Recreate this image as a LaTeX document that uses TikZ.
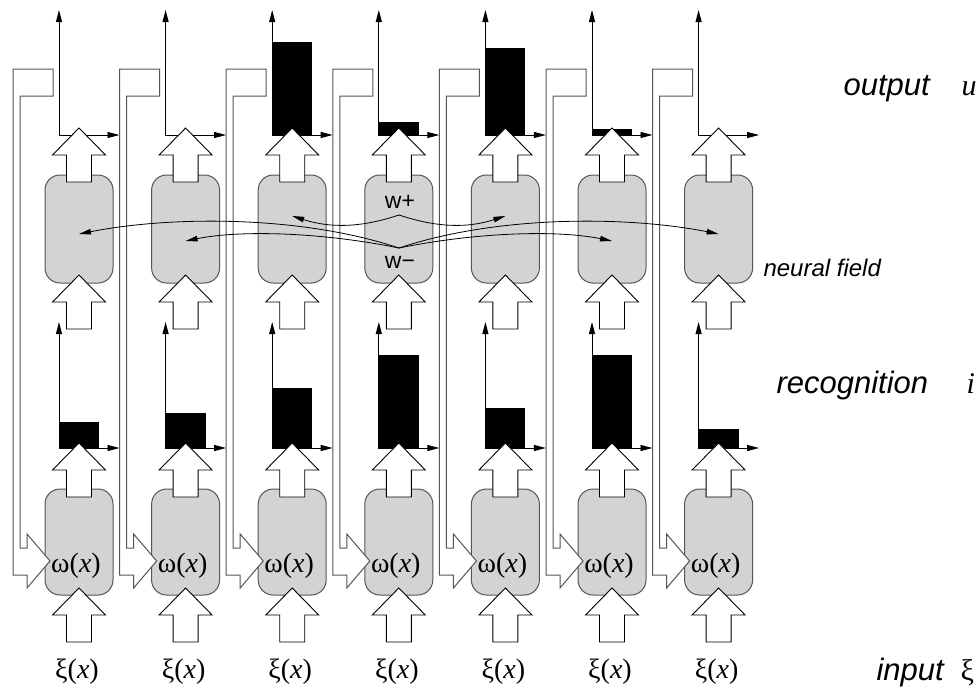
\documentclass[tikz,border=0pt]{standalone}
\usepackage{fontspec}
\setmainfont{Liberation Sans}
\newfontfamily\symfont{Liberation Serif}
\usetikzlibrary{arrows.meta, calc}
\definecolor{cFieldGray}{RGB}{211,211,211}
\definecolor{cEdgeGray}{RGB}{85,85,85}

\tikzset{
  % hollow arrow pointing up, tip at the origin
  blockup/.pic={
    \path[blockarrow] (0,0) -- (26.5,27) -- (12.5,27) -- (12.5,54)
      -- (-12.5,54) -- (-12.5,27) -- (-26.5,27) -- cycle;
  },
  % feedback pipe from the output down into the omega box
  feedback/.pic={
    \path[pipe] (-26,69) -- (-66,69) -- (-66,575) -- (-52,575) -- (-52,588)
      -- (-29,561) -- (-52,534) -- (-52,548) -- (-59,548) -- (-59,96)
      -- (-26,96) -- cycle;
  }
}

\begin{document}
\begin{tikzpicture}[x=1pt, y=-1pt, line join=miter,
    fieldbox/.style={draw=cEdgeGray, fill=cFieldGray, line width=1pt,
      rounded corners=15pt, minimum width=68pt, inner sep=0pt},
    blockarrow/.style={draw=black, fill=white, line width=0.9pt},
    pipe/.style={draw=cEdgeGray, fill=white, line width=1pt},
    axis/.style={line width=0.9pt,
      {Triangle[length=12pt,width=6pt]}-{Triangle[length=12pt,width=6pt]}},
    lateral/.style={line width=0.8pt, -{Triangle[length=12pt,width=5.5pt]}},
    symlabel/.style={font=\fontsize{28}{32}\symfont, anchor=base},
    weight/.style={font=\fontsize{23}{26}\selectfont, anchor=base},
    side/.style={font=\fontsize{31}{36}\selectfont\itshape, anchor=base west},
    sidesym/.style={font=\fontsize{30}{36}\symfont, anchor=base west}]
  \useasboundingbox (0,0) rectangle (977,691);

  % columns: index / output bar / recognition bar
  \foreach \i/\outh/\rech in {0/0/26, 1/0/35, 2/93/60, 3/13/93, 4/87/40, 5/6/93, 6/0/19} {
    \pgfmathsetmacro\c{79+106.6*\i}
    \node[fieldbox, minimum height=108pt] (nf\i) at (\c,229) {};
    \node[fieldbox, minimum height=106pt] (om\i) at (\c,542) {};
    % bars and axes
    \ifnum\outh>0 \fill (\c-20,135) rectangle (\c+20,135-\outh); \fi
    \ifnum\rech>0 \fill (\c-20,448) rectangle (\c+20,448-\rech); \fi
    \draw[axis] (\c-20,10) -- (\c-20,135) -- (\c+40.5,135);
    \draw[axis] (\c-20,322) -- (\c-20,448) -- (\c+40.5,448);
    % hollow arrows
    \pic at (\c,128) {blockup};
    \pic at (\c,275) {blockup};
    \pic at (\c,443) {blockup};
    \pic at (\c,588) {blockup};
    \pic at (\c,0) {feedback};
  }

  % lateral weights from the middle column
  \coordinate (wp) at (399,215);
  \coordinate (wm) at (399,248);
  \node[weight] (wplus) at (400,208) {w+};
  \node[weight] (wminus) at (400,268) {w−};
  \draw[lateral] (wp) .. controls (360,228) and (330,228) .. ([yshift=13pt]nf2.center);
  \draw[lateral] (wp) .. controls (438,228) and (468,228) .. ([yshift=13pt]nf4.center);
  \draw[lateral] (wm) .. controls (300,215) and (170,216) .. ([yshift=-5pt]nf0.center);
  \draw[lateral] (wm) .. controls (498,215) and (628,216) .. ([yshift=-5pt]nf6.center);
  \draw[lateral] (wm) .. controls (320,232) and (240,230) .. ([yshift=-12pt]nf1.center);
  \draw[lateral] (wm) .. controls (478,232) and (558,230) .. ([yshift=-12pt]nf5.center);

  % labels in the columns
  \foreach \i in {0,...,6} {
    \pgfmathsetmacro\c{79+106.6*\i}
    \node[symlabel] (wl\i) at (\c-3,572) {ω(\textit{x})};
    \node[symlabel] (xi\i) at (\c-2,678) {ξ(\textit{x})};
  }

  % layer names
  \node[side] (lbout) at (840,95) {output};
  \node[sidesym] (lbu) at (958,95) {\textit{u}};
  \node[font=\fontsize{24}{28}\selectfont\itshape, anchor=base west] (lbnf) at (760,276) {neural field};
  \node[side] (lbrec) at (773,393) {recognition};
  \node[sidesym] (lbi) at (963,393) {\textit{i}};
  \node[side] (lbin) at (873,680) {input};
  \node[sidesym] (lbxi) at (957,680) {ξ};
\end{tikzpicture}
\end{document}
